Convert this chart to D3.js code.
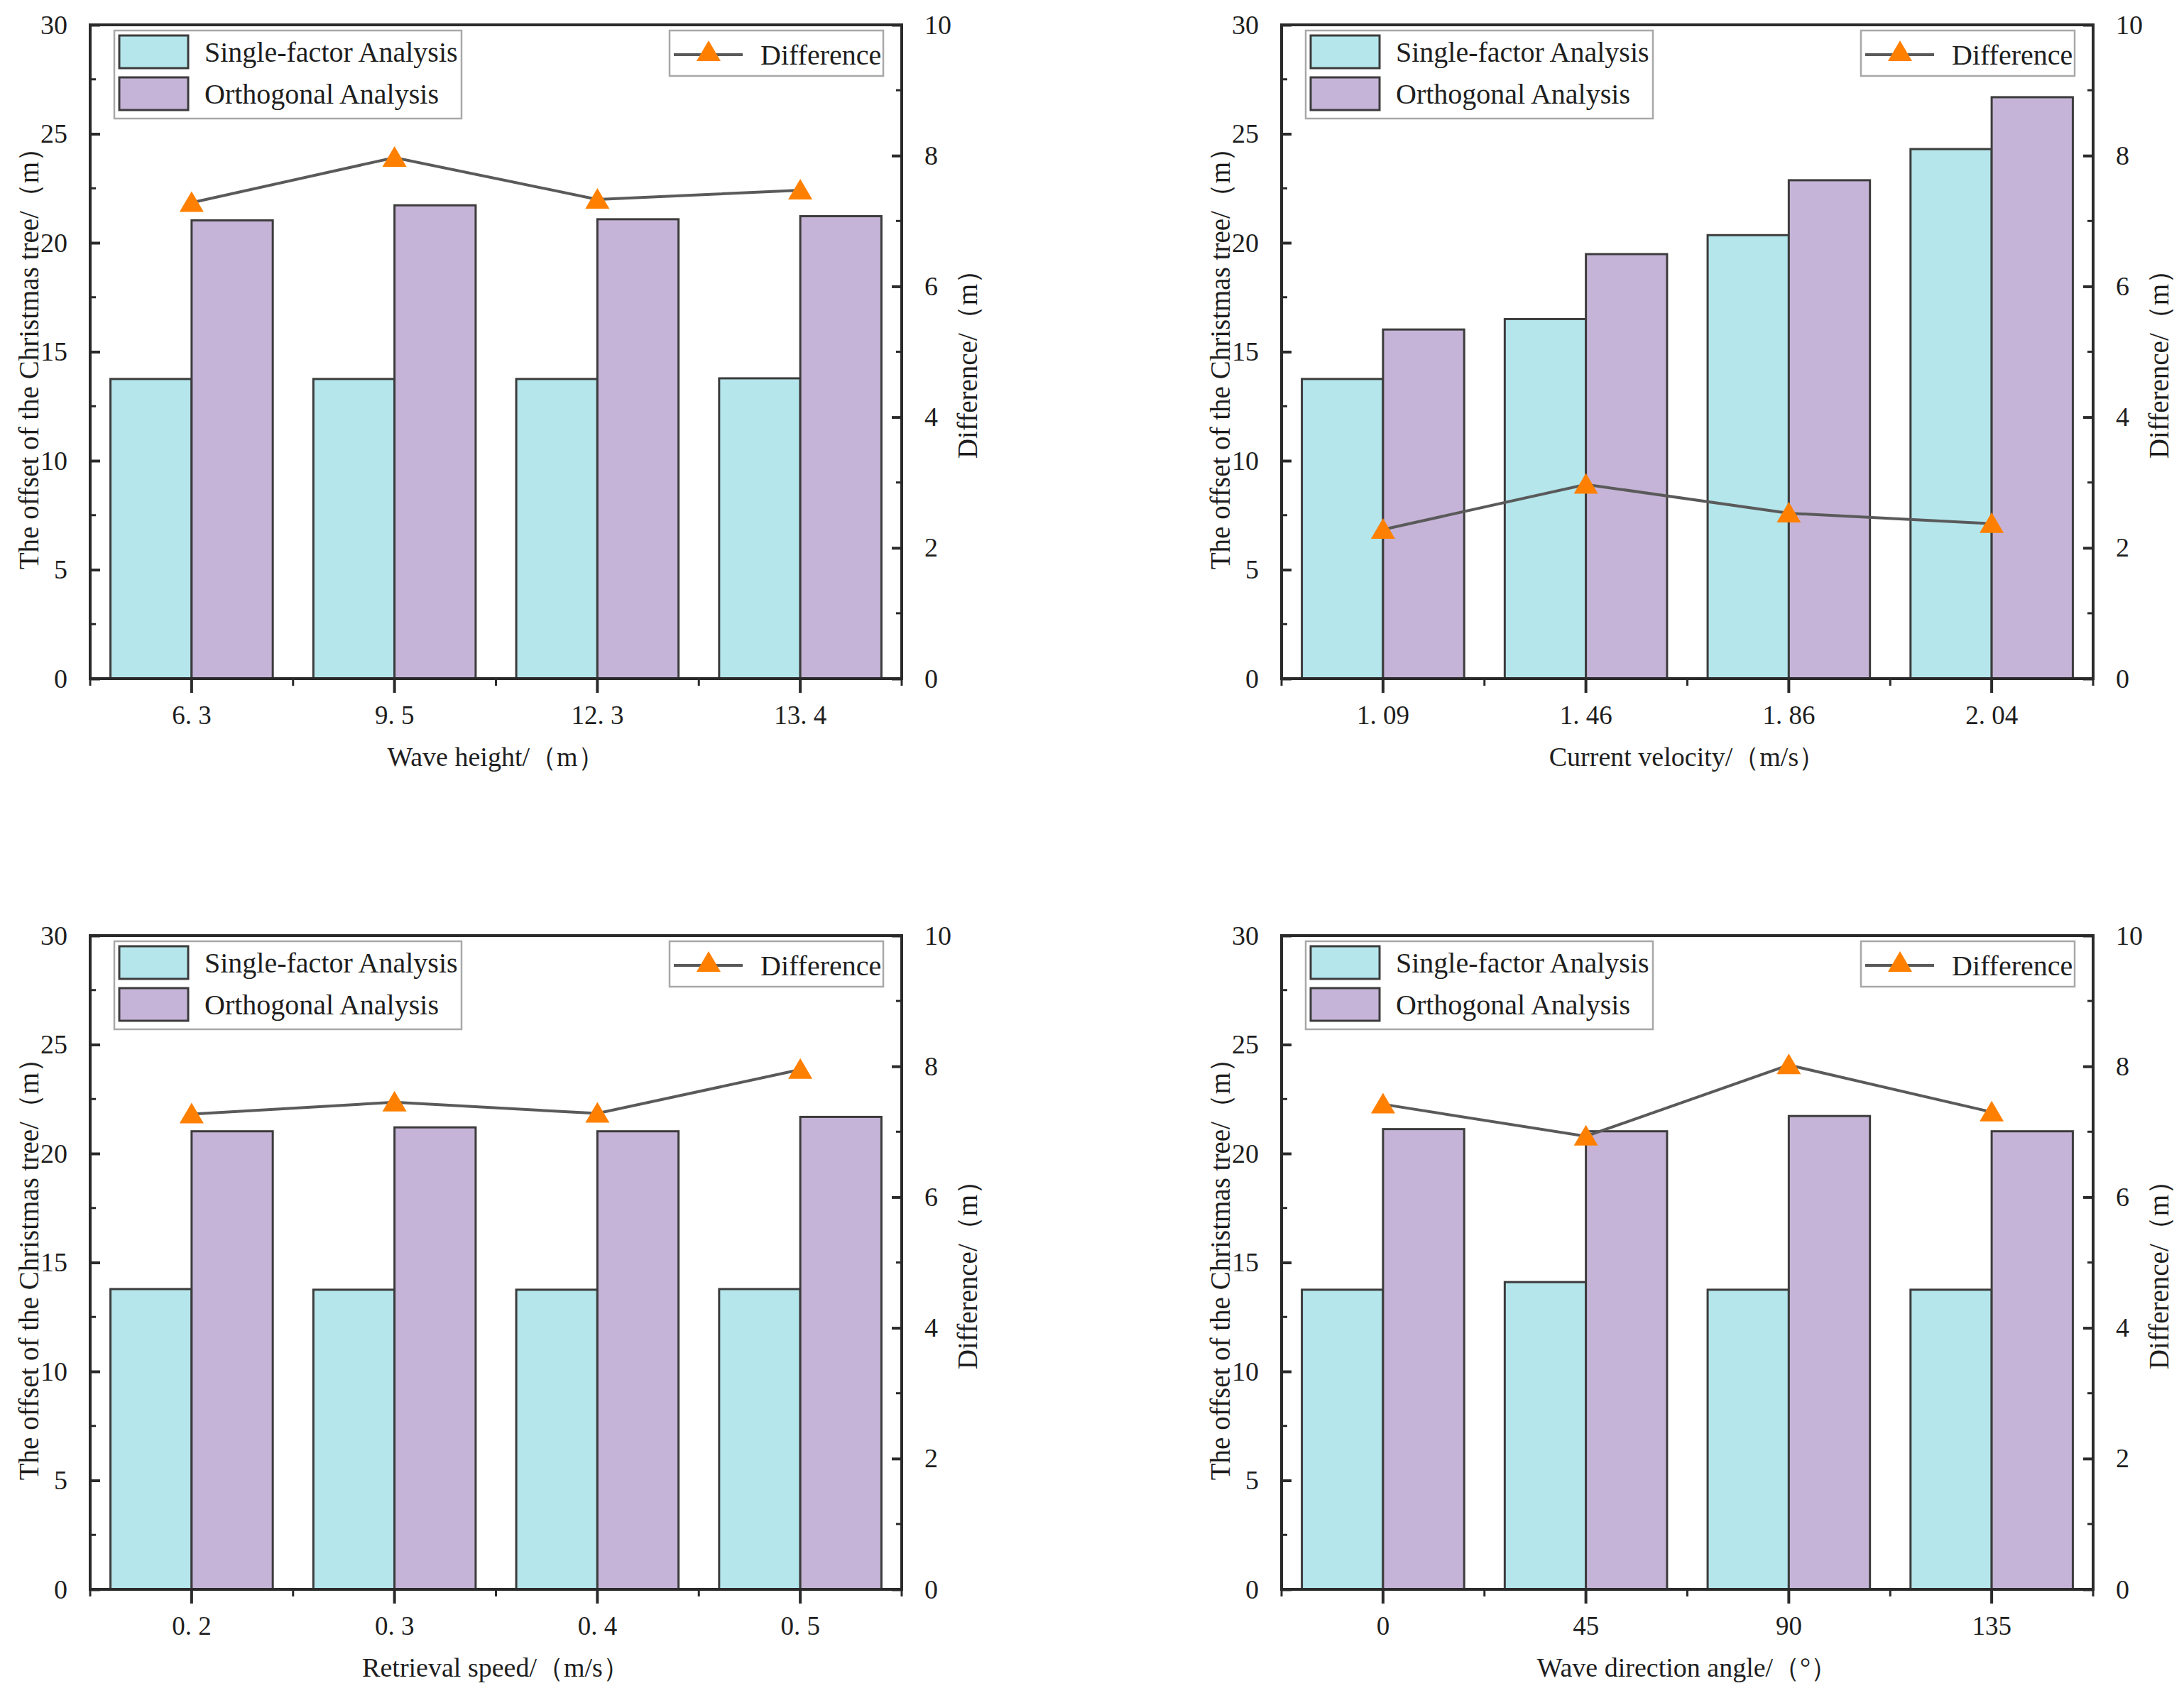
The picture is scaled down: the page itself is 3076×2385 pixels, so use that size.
<!DOCTYPE html>
<html>
<head>
<meta charset="utf-8">
<script src="https://cdn.jsdelivr.net/npm/d3@7"></script>
<style>
  html, body { margin: 0; padding: 0; background: #fff; }
  svg { display: block; }
  text { font-family: "Liberation Serif", "Times New Roman", serif; fill: #1e1e1e; }
</style>
</head>
<body>
<svg id="chart" width="3076" height="2385"></svg>
<script>
// ---------------- DATA ----------------
const seriesNames = ["Single-factor Analysis", "Orthogonal Analysis"];
const lineName = "Difference";
const leftAxisTitle = "The offset of the Christmas tree/\uFF08m\uFF09";
const rightAxisTitle = "Difference/\uFF08m\uFF09";
const leftTicks = [0, 5, 10, 15, 20, 25, 30];
const rightTicks = [0, 2, 4, 6, 8, 10];

const waveHeightCats = ["6. 3", "9. 5", "12. 3", "13. 4"];
const waveHeightSingle = [13.75, 13.75, 13.75, 13.78];
const waveHeightOrtho = [21.03, 21.72, 21.08, 21.22];
const waveHeightDiff = [7.28, 7.97, 7.33, 7.47];

const velocityCats = ["1. 09", "1. 46", "1. 86", "2. 04"];
const velocitySingle = [13.75, 16.5, 20.35, 24.3];
const velocityOrtho = [16.02, 19.48, 22.87, 26.68];
const velocityDiff = [2.28, 2.97, 2.53, 2.37];

const speedCats = ["0. 2", "0. 3", "0. 4", "0. 5"];
const speedSingle = [13.78, 13.75, 13.75, 13.78];
const speedOrtho = [21.02, 21.2, 21.02, 21.68];
const speedDiff = [7.27, 7.45, 7.28, 7.95];

const angleCats = ["0", "45", "90", "135"];
const angleSingle = [13.75, 14.1, 13.75, 13.75];
const angleOrtho = [21.12, 21.02, 21.72, 21.02];
const angleDiff = [7.42, 6.93, 8.02, 7.3];

const panels = [
  { title: "Wave height/\uFF08m\uFF09", cats: waveHeightCats, single: waveHeightSingle, ortho: waveHeightOrtho, diff: waveHeightDiff },
  { title: "Current velocity/\uFF08m/s\uFF09", cats: velocityCats, single: velocitySingle, ortho: velocityOrtho, diff: velocityDiff },
  { title: "Retrieval speed/\uFF08m/s\uFF09", cats: speedCats, single: speedSingle, ortho: speedOrtho, diff: speedDiff },
  { title: "Wave direction angle/\uFF08\u00B0\uFF09", cats: angleCats, single: angleSingle, ortho: angleOrtho, diff: angleDiff }
];

// ---------------- STYLE / LAYOUT ----------------
const FONT = "'Liberation Serif', 'Times New Roman', serif";
const colors = { single: "#b4e6ec", ortho: "#c6b4d8", tri: "#ff8000", line: "#5a5a5a", axis: "#2a2a2a", bar: "#3c3c3c", legend: "#a8a8a8", text: "#1e1e1e" };
const plotW = 1143, plotH = 921;
const origins = [[127, 35], [1805, 35], [127, 1318], [1805, 1318]];

const svg = d3.select("#chart");
svg.append("rect").attr("width", 3076).attr("height", 2385).attr("fill", "#fff");

const triPath = "M0,-16 L17,13 L-17,13 Z";

function styleAxis(sel, size) {
  sel.attr("font-family", FONT).attr("font-size", size);
  sel.select(".domain").remove();
  sel.selectAll(".tick line").attr("stroke", colors.axis).attr("stroke-width", 4);
  sel.selectAll(".tick text")
    .attr("font-family", FONT)
    .attr("fill", colors.text)
    .style("font-family", FONT)
    .style("font-size", size + "px");
}

panels.forEach((p, i) => {
  const [ox, oy] = origins[i];
  const g = svg.append("g").attr("transform", `translate(${ox},${oy})`);

  const x = d3.scaleBand().domain(p.cats).range([0, plotW]).paddingInner(0.2).paddingOuter(0.1);
  const xSub = d3.scaleBand().domain(["single", "ortho"]).range([0, x.bandwidth()]);
  const y = d3.scaleLinear().domain([0, 30]).range([plotH, 0]);
  const y2 = d3.scaleLinear().domain([0, 10]).range([plotH, 0]);
  const step = x.step();

  // bars
  const rows = p.cats.map((c, k) => ({ cat: c, single: p.single[k], ortho: p.ortho[k], diff: p.diff[k] }));
  const grp = g.append("g").selectAll("g").data(rows).join("g")
    .attr("transform", d => `translate(${x(d.cat)},0)`);
  grp.selectAll("rect").data(d => [{ k: "single", v: d.single }, { k: "ortho", v: d.ortho }]).join("rect")
    .attr("x", d => xSub(d.k))
    .attr("y", d => y(d.v))
    .attr("width", xSub.bandwidth())
    .attr("height", d => plotH - y(d.v))
    .attr("fill", d => colors[d.k])
    .attr("stroke", colors.bar)
    .attr("stroke-width", 3);

  // difference line
  const cx = d => x(d.cat) + x.bandwidth() / 2;
  g.append("path").datum(rows)
    .attr("d", d3.line().x(cx).y(d => y2(d.diff)))
    .attr("fill", "none").attr("stroke", colors.line).attr("stroke-width", 4);
  g.append("g").selectAll("path").data(rows).join("path")
    .attr("d", triPath)
    .attr("transform", d => `translate(${cx(d)},${y2(d.diff)})`)
    .attr("fill", colors.tri);

  // frame
  g.append("rect").attr("x", 0).attr("y", 0).attr("width", plotW).attr("height", plotH)
    .attr("fill", "none").attr("stroke", colors.axis).attr("stroke-width", 4);

  // left axis (inward ticks)
  const la = g.append("g").call(d3.axisLeft(y).tickValues(leftTicks).tickSize(-14).tickPadding(32).tickFormat(d3.format("d")));
  styleAxis(la, 38);
  g.append("g").selectAll("line").data(d3.range(2.5, 30, 5)).join("line")
    .attr("x1", 0).attr("x2", 8).attr("y1", d => y(d)).attr("y2", d => y(d))
    .attr("stroke", colors.axis).attr("stroke-width", 3);

  // right axis (inward ticks)
  const ra = g.append("g").attr("transform", `translate(${plotW},0)`)
    .call(d3.axisRight(y2).tickValues(rightTicks).tickSize(-14).tickPadding(32).tickFormat(d3.format("d")));
  styleAxis(ra, 38);
  g.append("g").selectAll("line").data(d3.range(1, 10, 2)).join("line")
    .attr("x1", plotW - 8).attr("x2", plotW).attr("y1", d => y2(d)).attr("y2", d => y2(d))
    .attr("stroke", colors.axis).attr("stroke-width", 3);

  // bottom axis (outward ticks)
  const ba = g.append("g").attr("transform", `translate(0,${plotH})`)
    .call(d3.axisBottom(x).tickSize(20).tickPadding(18));
  styleAxis(ba, 37);
  g.append("g").selectAll("line").data(d3.range(0, 5)).join("line")
    .attr("x1", d => d * step).attr("x2", d => d * step)
    .attr("y1", plotH).attr("y2", plotH + 10)
    .attr("stroke", colors.axis).attr("stroke-width", 3);

  // axis titles
  g.append("text").attr("x", plotW / 2).attr("y", plotH + 110)
    .attr("text-anchor", "middle").attr("dominant-baseline", "central")
    .style("font-size", "38px").text(p.title);
  g.append("text").attr("transform", `translate(-87,${plotH / 2}) rotate(-90)`)
    .attr("text-anchor", "middle").attr("dominant-baseline", "central")
    .style("font-size", "39px").text(leftAxisTitle);
  g.append("text").attr("transform", `translate(${plotW + 92},${plotH / 2 + 8}) rotate(-90)`)
    .attr("text-anchor", "middle").attr("dominant-baseline", "central")
    .style("font-size", "39px").text(rightAxisTitle);

  // legend 1 (bars)
  const l1 = g.append("g").attr("transform", "translate(34,8)");
  l1.append("rect").attr("width", 489).attr("height", 124).attr("fill", "#fff")
    .attr("stroke", colors.legend).attr("stroke-width", 2.5);
  ["single", "ortho"].forEach((k, j) => {
    l1.append("rect").attr("x", 7).attr("y", 7 + j * 59).attr("width", 97).attr("height", 46)
      .attr("fill", colors[k]).attr("stroke", colors.bar).attr("stroke-width", 3);
    l1.append("text").attr("x", 127).attr("y", 30 + j * 59).attr("dominant-baseline", "central")
      .style("font-size", "40px").text(seriesNames[j]);
  });

  // legend 2 (line)
  const l2 = g.append("g").attr("transform", `translate(${plotW - 327},8)`);
  l2.append("rect").attr("width", 301).attr("height", 64).attr("fill", "#fff")
    .attr("stroke", colors.legend).attr("stroke-width", 2.5);
  l2.append("line").attr("x1", 6).attr("x2", 103).attr("y1", 34).attr("y2", 34)
    .attr("stroke", colors.line).attr("stroke-width", 4);
  l2.append("path").attr("d", triPath).attr("transform", "translate(55,30)").attr("fill", colors.tri);
  l2.append("text").attr("x", 128).attr("y", 34).attr("dominant-baseline", "central")
    .style("font-size", "40px").text(lineName);
});
</script>
</body>
</html>
